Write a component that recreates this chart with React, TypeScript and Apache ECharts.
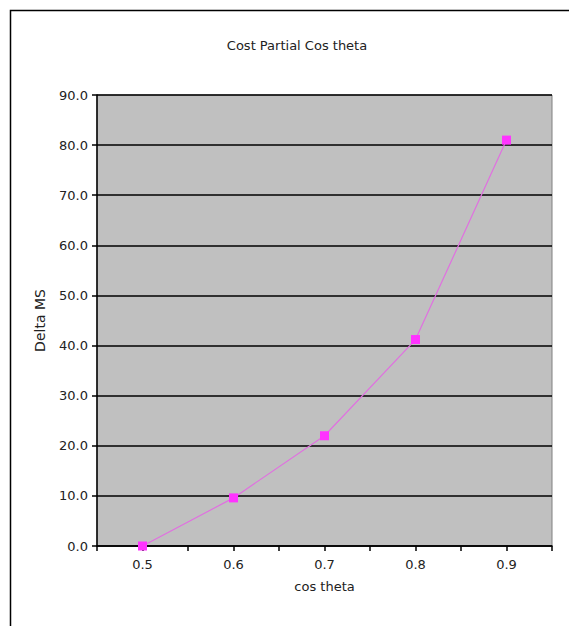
import React, { useEffect, useRef } from "react";
import * as echarts from "echarts";

// cos theta values along the x axis and the matching Delta MS costs
const cosTheta = [0.5, 0.6, 0.7, 0.8, 0.9];
const deltaMs = [0, 9.6, 22.0, 41.2, 81.0];

const FONT = "DejaVu Sans";

export default function App() {
  const ref = useRef<HTMLDivElement>(null);

  useEffect(() => {
    if (!ref.current) return;
    const chart = echarts.init(ref.current, undefined, { renderer: "svg" });
    const points = cosTheta.map((c, i) => [c, deltaMs[i]]);

    chart.setOption({
      animation: false,
      backgroundColor: "#ffffff",
      title: {
        text: "Cost Partial Cos theta",
        left: 292,
        top: 34,
        textAlign: "center",
        textStyle: { fontFamily: FONT, fontSize: 13, fontWeight: "normal", color: "#222" },
      },
      graphic: [
        {
          type: "polyline",
          shape: { points: [[10.5, 640], [10.5, 10.5], [600, 10.5]] },
          style: { stroke: "#000", lineWidth: 1.5, fill: "none" },
          silent: true,
        },
      ],
      grid: {
        left: 97,
        right: 17,
        top: 95,
        bottom: 80,
        show: true,
        backgroundColor: "#c0c0c0",
        borderColor: "#808080",
        borderWidth: 1,
      },
      xAxis: {
        type: "value",
        min: 0.45,
        max: 0.95,
        interval: 0.05,
        name: "cos theta",
        nameLocation: "middle",
        nameGap: 34,
        nameMoveOverlap: false,
        nameTextStyle: { fontFamily: FONT, fontSize: 13, color: "#222" },
        axisLine: { show: true, onZero: false, lineStyle: { color: "#000", width: 1.5 } },
        axisTick: { show: true, length: 5, lineStyle: { color: "#000", width: 1.5 } },
        splitLine: { show: false },
        axisLabel: {
          fontFamily: FONT,
          fontSize: 13,
          color: "#222",
          margin: 12,
          showMinLabel: true,
          showMaxLabel: true,
          formatter: (v: number) => {
            const r = Math.round(v * 100);
            return r % 10 === 0 ? (r / 100).toFixed(1) : "";
          },
        },
      },
      yAxis: {
        type: "value",
        min: 0,
        max: 90,
        interval: 10,
        name: "Delta MS",
        nameLocation: "middle",
        nameGap: 50,
        nameMoveOverlap: false,
        nameRotate: 90,
        nameTextStyle: { fontFamily: FONT, fontSize: 14, color: "#222" },
        axisLine: { show: true, lineStyle: { color: "#000", width: 1.5 } },
        axisTick: { show: true, length: 5, lineStyle: { color: "#000", width: 1.5 } },
        splitLine: { show: true, lineStyle: { color: "#000", width: 1.5 } },
        axisLabel: {
          fontFamily: FONT,
          fontSize: 13,
          color: "#222",
          margin: 9,
          formatter: (v: number) => v.toFixed(1),
        },
      },
      series: [
        {
          type: "line",
          data: points,
          symbol: "rect",
          symbolSize: 9,
          lineStyle: { color: "#e070e0", width: 1.2 },
          itemStyle: { color: "#ff33ff", borderWidth: 0 },
          z: 5,
        },
      ],
    });

    return () => chart.dispose();
  }, []);

  return <div ref={ref} style={{ width: 569, height: 626, position: "absolute", left: 0, top: 0 }} />;
}
